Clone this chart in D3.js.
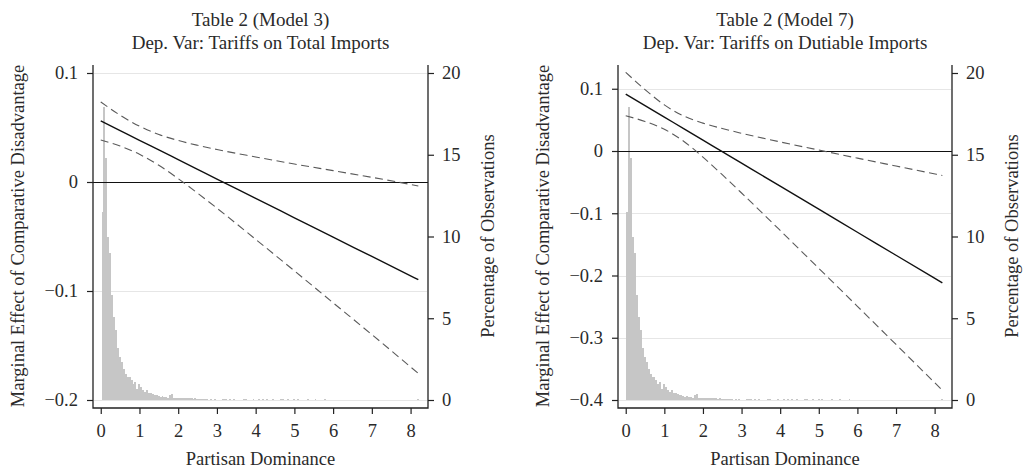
<!DOCTYPE html>
<html>
<head>
<meta charset="utf-8">
<script src="https://cdn.jsdelivr.net/npm/d3@7/dist/d3.min.js"></script>
<style>
    body { margin: 0; background: #fff; }
    svg { display: block; }
</style>
</head>
<body>
<div id="chart"></div>
<script>
// Marginal effect plots with histogram of Partisan Dominance

const serif = '"Liberation Serif", "Times New Roman", Times, serif';

const xTicks = [0, 1, 2, 3, 4, 5, 6, 7, 8];
const pctTicks = [0, 5, 10, 15, 20];
const model3Ticks = [-0.2, -0.1, 0, 0.1];
const model7Ticks = [-0.4, -0.3, -0.2, -0.1, 0, 0.1];

// points along Partisan Dominance where the lines were read
const lineX = [0, 0.5, 1, 1.5, 2, 2.5, 3, 4, 5, 6, 7, 8.2];

const model3Est = [0.056, 0.0471, 0.0382, 0.0294, 0.0205, 0.0116, 0.0027, -0.0150, -0.0328, -0.0506, -0.0683, -0.0896];
const model3Upper = [0.0735, 0.0613, 0.0512, 0.0436, 0.0381, 0.0337, 0.0298, 0.0230, 0.0165, 0.0104, 0.0043, -0.0036];
const model3Lower = [0.0385, 0.0330, 0.0254, 0.0153, 0.0031, -0.0102, -0.0240, -0.0526, -0.0815, -0.1108, -0.1400, -0.1756];

const model7Est = [0.0915, 0.0730, 0.0545, 0.0360, 0.0175, -0.0010, -0.0195, -0.0565, -0.0935, -0.1305, -0.1675, -0.2119];
const model7Upper = [0.1265, 0.0986, 0.0741, 0.0563, 0.0448, 0.0361, 0.0285, 0.0146, 0.0015, -0.0115, -0.0242, -0.0394];
const model7Lower = [0.0565, 0.0474, 0.0349, 0.0157, -0.0098, -0.0381, -0.0675, -0.1276, -0.1885, -0.2495, -0.3108, -0.3844];

// histogram (percentage of observations), bins of width 0.05
const histBinWidth = 0.05;
const histStart = [
    0.02, 0.07, 0.12, 0.17, 0.22, 0.27, 0.32, 0.37, 0.42, 0.47,
    0.52, 0.57, 0.62, 0.67, 0.72, 0.77, 0.82, 0.87, 0.92, 0.97,
    1.02, 1.07, 1.12, 1.17, 1.22, 1.27, 1.32, 1.37, 1.42, 1.47,
    1.52, 1.57, 1.62, 1.67, 1.72, 1.77, 1.82, 1.87, 1.92, 1.97,
    2.02, 2.07, 2.12, 2.17, 2.22, 2.27, 2.32, 2.37, 2.42, 2.47,
    2.52, 2.57, 2.62, 2.67, 2.72,
    2.82, 2.92, 3.12, 3.17, 3.22, 3.32, 3.42, 3.67, 3.72, 3.92,
    4.07, 4.17, 4.27, 4.42, 4.62, 4.67, 4.82, 4.97, 5.07, 5.32,
    5.52, 5.77, 8.17
];
const histPct = [
    11.5, 17.9, 14.8, 10.0, 9.0, 6.4, 5.1, 4.3, 3.2, 2.6,
    2.3, 1.9, 1.6, 1.4, 1.4, 1.2, 1.0, 1.1, 0.7, 1.0,
    0.8, 0.6, 0.5, 0.6, 0.4, 0.45, 0.35, 0.3, 0.3, 0.25,
    0.2, 0.25, 0.2, 0.2, 0.15, 0.3, 0.35, 0.15, 0.1, 0.12,
    0.1, 0.12, 0.1, 0.12, 0.15, 0.1, 0.12, 0.08, 0.1, 0.08,
    0.06, 0.08, 0.06, 0.06, 0.06,
    0.06, 0.06, 0.06, 0.06, 0.06, 0.06, 0.06, 0.06, 0.06, 0.06,
    0.06, 0.06, 0.06, 0.06, 0.06, 0.06, 0.06, 0.06, 0.06, 0.06,
    0.06, 0.06, 0.06
];

const svg = d3.select('#chart').append('svg')
    .attr('width', 1024)
    .attr('height', 470);

drawPanel({
    left: 93, right: 428,
    title: ['Table 2 (Model 3)', 'Dep. Var: Tariffs on Total Imports'],
    ticks: model3Ticks,
    yDomain: [-0.2, 0.1], yTopTick: 73,
    est: model3Est, upper: model3Upper, lower: model3Lower
});

drawPanel({
    left: 618, right: 952,
    title: ['Table 2 (Model 7)', 'Dep. Var: Tariffs on Dutiable Imports'],
    ticks: model7Ticks,
    yDomain: [-0.4, 0.1], yTopTick: 88.75,
    est: model7Est, upper: model7Upper, lower: model7Lower
});

function drawPanel(p) {
    const top = 65, bottom = 408, base = 400;
    const g = svg.append('g');

    const x = d3.scaleLinear().domain([-0.2, 8.45]).range([p.left, p.right]);
    const y = d3.scaleLinear().domain(p.yDomain).range([base, p.yTopTick]);
    const yPct = d3.scaleLinear().domain([0, 20]).range([base, 73]);

    // gridlines
    g.selectAll('line.grid')
        .data(p.ticks.filter(d => d !== 0))
      .enter().append('line')
        .attr('class', 'grid')
        .attr('x1', p.left + 1).attr('x2', p.right - 1)
        .attr('y1', d => Math.round(y(d)) + 0.5).attr('y2', d => Math.round(y(d)) + 0.5)
        .attr('stroke', '#e6e6e6')
        .attr('stroke-width', 1);

    // histogram
    g.selectAll('rect.bar')
        .data(histStart.map((s, i) => ({x0: s, pct: histPct[i]})))
      .enter().append('rect')
        .attr('class', 'bar')
        .attr('x', d => x(d.x0))
        .attr('width', d => x(d.x0 + histBinWidth) - x(d.x0))
        .attr('y', d => yPct(d.pct))
        .attr('height', d => base - yPct(d.pct))
        .attr('fill', '#c6c6c6')
        .attr('shape-rendering', 'crispEdges');

    // zero reference line
    g.append('line')
        .attr('x1', p.left).attr('x2', p.right)
        .attr('y1', Math.round(y(0)) + 0.5).attr('y2', Math.round(y(0)) + 0.5)
        .attr('stroke', '#111')
        .attr('stroke-width', 1.2);

    const line = vals => d3.line()
        .x((d, i) => x(lineX[i]))
        .y(d => y(d))
        .curve(d3.curveMonotoneX)(vals);

    [p.upper, p.lower].forEach(vals => {
        g.append('path')
            .attr('d', line(vals))
            .attr('fill', 'none')
            .attr('stroke', '#5a5a5a')
            .attr('stroke-width', 1.1)
            .attr('stroke-dasharray', '8,4.5');
    });

    g.append('path')
        .attr('d', line(p.est))
        .attr('fill', 'none')
        .attr('stroke', '#111')
        .attr('stroke-width', 1.4);

    // axes
    const leftAxis = g.append('g')
        .attr('transform', `translate(${p.left},0)`)
        .call(d3.axisLeft(y).tickValues(p.ticks).tickSize(6).tickPadding(9)
            .tickFormat(d => d === 0 ? '0' : d3.format('.1f')(d).replace('-', '\u2212')));

    const rightAxis = g.append('g')
        .attr('transform', `translate(${p.right},0)`)
        .call(d3.axisRight(yPct).tickValues(pctTicks).tickSize(6).tickPadding(8));

    const bottomAxis = g.append('g')
        .attr('transform', `translate(0,${bottom})`)
        .call(d3.axisBottom(x).tickValues(xTicks).tickSize(6).tickPadding(10));

    [leftAxis, rightAxis, bottomAxis].forEach(a => {
        a.select('.domain').remove();
        a.selectAll('.tick line').attr('stroke', '#222').attr('stroke-width', 1.2);
        a.selectAll('.tick text')
            .style('font-family', serif)
            .style('font-size', '18.5px')
            .style('fill', '#2a2a2a');
    });

    // axis lines
    g.append('path')
        .attr('d', `M${p.left},${top}V${bottom}H${p.right}V${top}`)
        .attr('fill', 'none')
        .attr('stroke', '#222')
        .attr('stroke-width', 1.3);

    // titles
    const cx = (p.left + p.right) / 2;
    g.selectAll('text.title')
        .data(p.title)
      .enter().append('text')
        .attr('class', 'title')
        .attr('x', cx)
        .attr('y', (d, i) => 26 + i * 23)
        .attr('text-anchor', 'middle')
        .style('font-family', serif)
        .style('font-size', '19px')
        .style('fill', '#2a2a2a')
        .text(d => d);

    g.append('text')
        .attr('x', cx)
        .attr('y', 465)
        .attr('text-anchor', 'middle')
        .style('font-family', serif)
        .style('font-size', '18.5px')
        .style('fill', '#2a2a2a')
        .text('Partisan Dominance');

    g.append('text')
        .attr('transform', `translate(${p.left - 69},236) rotate(-90)`)
        .attr('text-anchor', 'middle')
        .style('font-family', serif)
        .style('font-size', '18.5px')
        .style('fill', '#2a2a2a')
        .text('Marginal Effect of Comparative Disadvantage');

    g.append('text')
        .attr('transform', `translate(${p.right + 66},236) rotate(-90)`)
        .attr('text-anchor', 'middle')
        .style('font-family', serif)
        .style('font-size', '18.5px')
        .style('fill', '#2a2a2a')
        .text('Percentage of Observations');
}
</script>
</body>
</html>
